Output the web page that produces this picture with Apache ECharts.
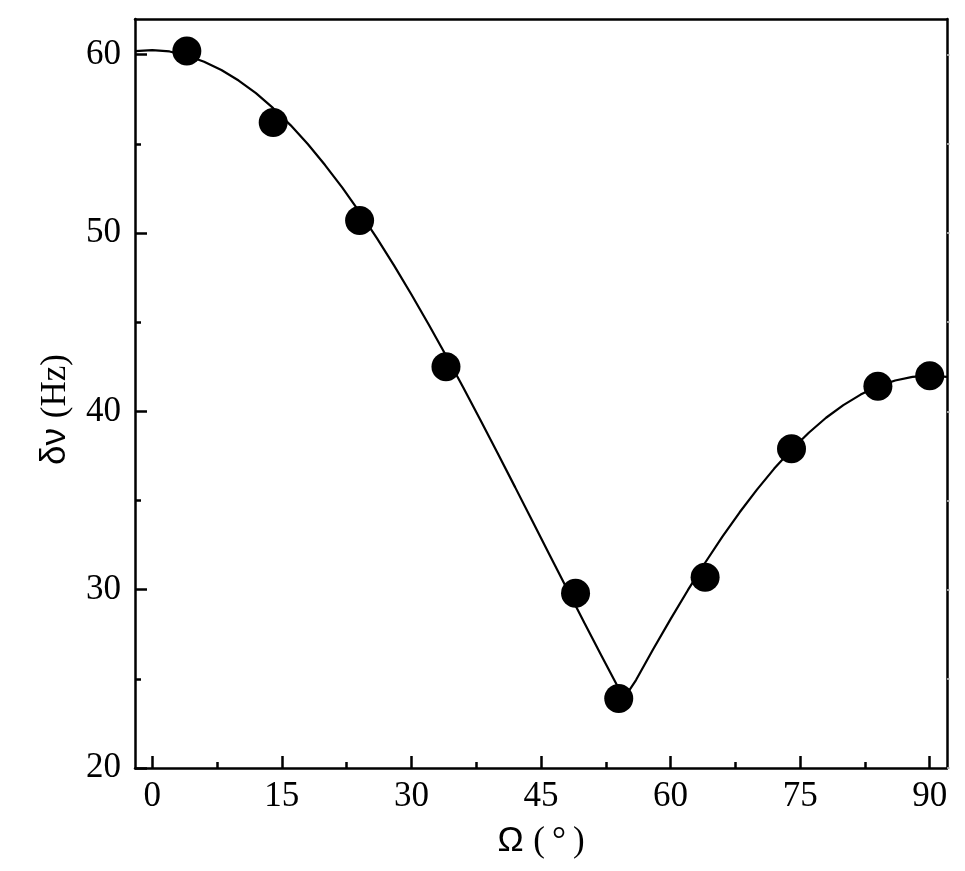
<!DOCTYPE html>
<html>
<head>
<meta charset="utf-8">
<script src="https://cdn.jsdelivr.net/npm/echarts@6/dist/echarts.min.js"></script>
<style>html,body{margin:0;padding:0;background:#fff}#chart{width:965px;height:871px}</style>
</head>
<body>
<div id="chart"></div>
<script>
// Measured points: angle Ω (deg) and splitting δν (Hz)
const omegaPts = [4, 14, 24, 34, 49, 54, 64, 74, 84, 90];
const dnuPts = [60.2, 56.2, 50.7, 42.5, 29.8, 23.9, 30.7, 37.9, 41.4, 42.0];

// Fitted curve
const curveOmega = [-2, 0, 2, 4, 6, 8, 10, 12, 14, 16, 18, 20, 22, 24, 26, 28, 30, 32, 34, 36, 38, 40, 42, 44, 46, 48, 50, 52, 54, 54.6, 56, 58, 60, 62, 64, 66, 68, 70, 72, 74, 76, 78, 80, 82, 84, 86, 88, 90, 92];
const curveDnu = [60.2, 60.25, 60.18, 59.95, 59.6, 59.14, 58.55, 57.84, 57.0, 56.05, 54.99, 53.81, 52.54, 51.17, 49.71, 48.17, 46.55, 44.87, 43.13, 41.34, 39.5, 37.64, 35.75, 33.85, 31.95, 30.05, 28.16, 26.3, 24.46, 23.9, 24.93, 26.67, 28.35, 29.97, 31.51, 32.97, 34.34, 35.61, 36.79, 37.85, 38.8, 39.64, 40.35, 40.94, 41.4, 41.73, 41.93, 42.0, 41.93];

// Tick values
const xMajor = [0, 15, 30, 45, 60, 75, 90];
const xMinor = [7.5, 22.5, 37.5, 52.5, 67.5, 82.5];
const yMajor = [20, 30, 40, 50, 60];
const yMinor = [25, 35, 45, 55];

const chart = echarts.init(document.getElementById('chart'));
const serif = 'Liberation Serif';
const sans = 'Liberation Sans';
const lineStyle = {color: '#000', width: 2.5};

const option = {
  animation: false,
  backgroundColor: '#fff',
  grid: {left: 135, top: 19, right: 18, bottom: 103, containLabel: false},
  xAxis: [
    {
      type: 'value', min: -2, max: 92, position: 'bottom',
      axisLine: {show: true, onZero: false, lineStyle: lineStyle},
      axisTick: {show: true, inside: true, length: 12, customValues: xMajor, lineStyle: {color: '#000', width: 2.5}},
      axisLabel: {show: true, customValues: xMajor, margin: 11, color: '#000', fontFamily: serif, fontSize: 35},
      splitLine: {show: false},
      name: '{o|Ω }{p|(\u2009°\u2009)}',
      nameLocation: 'middle', nameGap: 56,
      nameTextStyle: {rich: {
        o: {fontFamily: sans, fontSize: 35, color: '#000'},
        p: {fontFamily: serif, fontSize: 35, color: '#000'}
      }}
    },
    {
      type: 'value', min: -2, max: 92, position: 'bottom',
      axisLine: {show: false, onZero: false},
      axisTick: {show: true, inside: true, length: 6, customValues: xMinor, lineStyle: {color: '#000', width: 2.5}},
      axisLabel: {show: false},
      splitLine: {show: false}
    },
    {
      type: 'value', min: -2, max: 92, position: 'top',
      axisLine: {show: true, onZero: false, lineStyle: lineStyle},
      axisTick: {show: false}, axisLabel: {show: false}, splitLine: {show: false}
    }
  ],
  yAxis: [
    {
      type: 'value', min: 20, max: 62, position: 'left',
      axisLine: {show: true, onZero: false, lineStyle: lineStyle},
      axisTick: {show: true, inside: true, length: 12, customValues: yMajor, lineStyle: {color: '#000', width: 2.5}},
      axisLabel: {show: true, customValues: yMajor, margin: 14, color: '#000', fontFamily: serif, fontSize: 35},
      splitLine: {show: false},
      name: '{d|δν }{p|(Hz)}',
      nameLocation: 'middle', nameGap: 62,
      nameTextStyle: {padding: [0, 32, 0, 0], rich: {
        d: {fontFamily: sans, fontSize: 35, color: '#000'},
        p: {fontFamily: serif, fontSize: 35, color: '#000'}
      }}
    },
    {
      type: 'value', min: 20, max: 62, position: 'left',
      axisLine: {show: false, onZero: false},
      axisTick: {show: true, inside: true, length: 6, customValues: yMinor, lineStyle: {color: '#000', width: 2.5}},
      axisLabel: {show: false}, splitLine: {show: false}
    },
    {
      type: 'value', min: 20, max: 62, position: 'right',
      axisLine: {show: true, onZero: false, lineStyle: lineStyle},
      axisTick: {show: true, inside: false, length: 3, customValues: yMajor.concat(yMinor), lineStyle: {color: '#ccc', width: 1.5}},
      axisLabel: {show: false}, splitLine: {show: false}
    }
  ],
  series: [
    {
      type: 'line', xAxisIndex: 0, yAxisIndex: 0,
      data: curveOmega.map((x, i) => [x, curveDnu[i]]),
      showSymbol: false, symbol: 'none', smooth: false,
      lineStyle: {color: '#000', width: 2.2}, z: 2
    },
    {
      type: 'scatter', xAxisIndex: 0, yAxisIndex: 0,
      data: omegaPts.map((x, i) => [x, dnuPts[i]]),
      symbol: 'circle', symbolSize: 29,
      itemStyle: {color: '#000', opacity: 1}, z: 3
    }
  ]
};
chart.setOption(option);
</script>
</body>
</html>
